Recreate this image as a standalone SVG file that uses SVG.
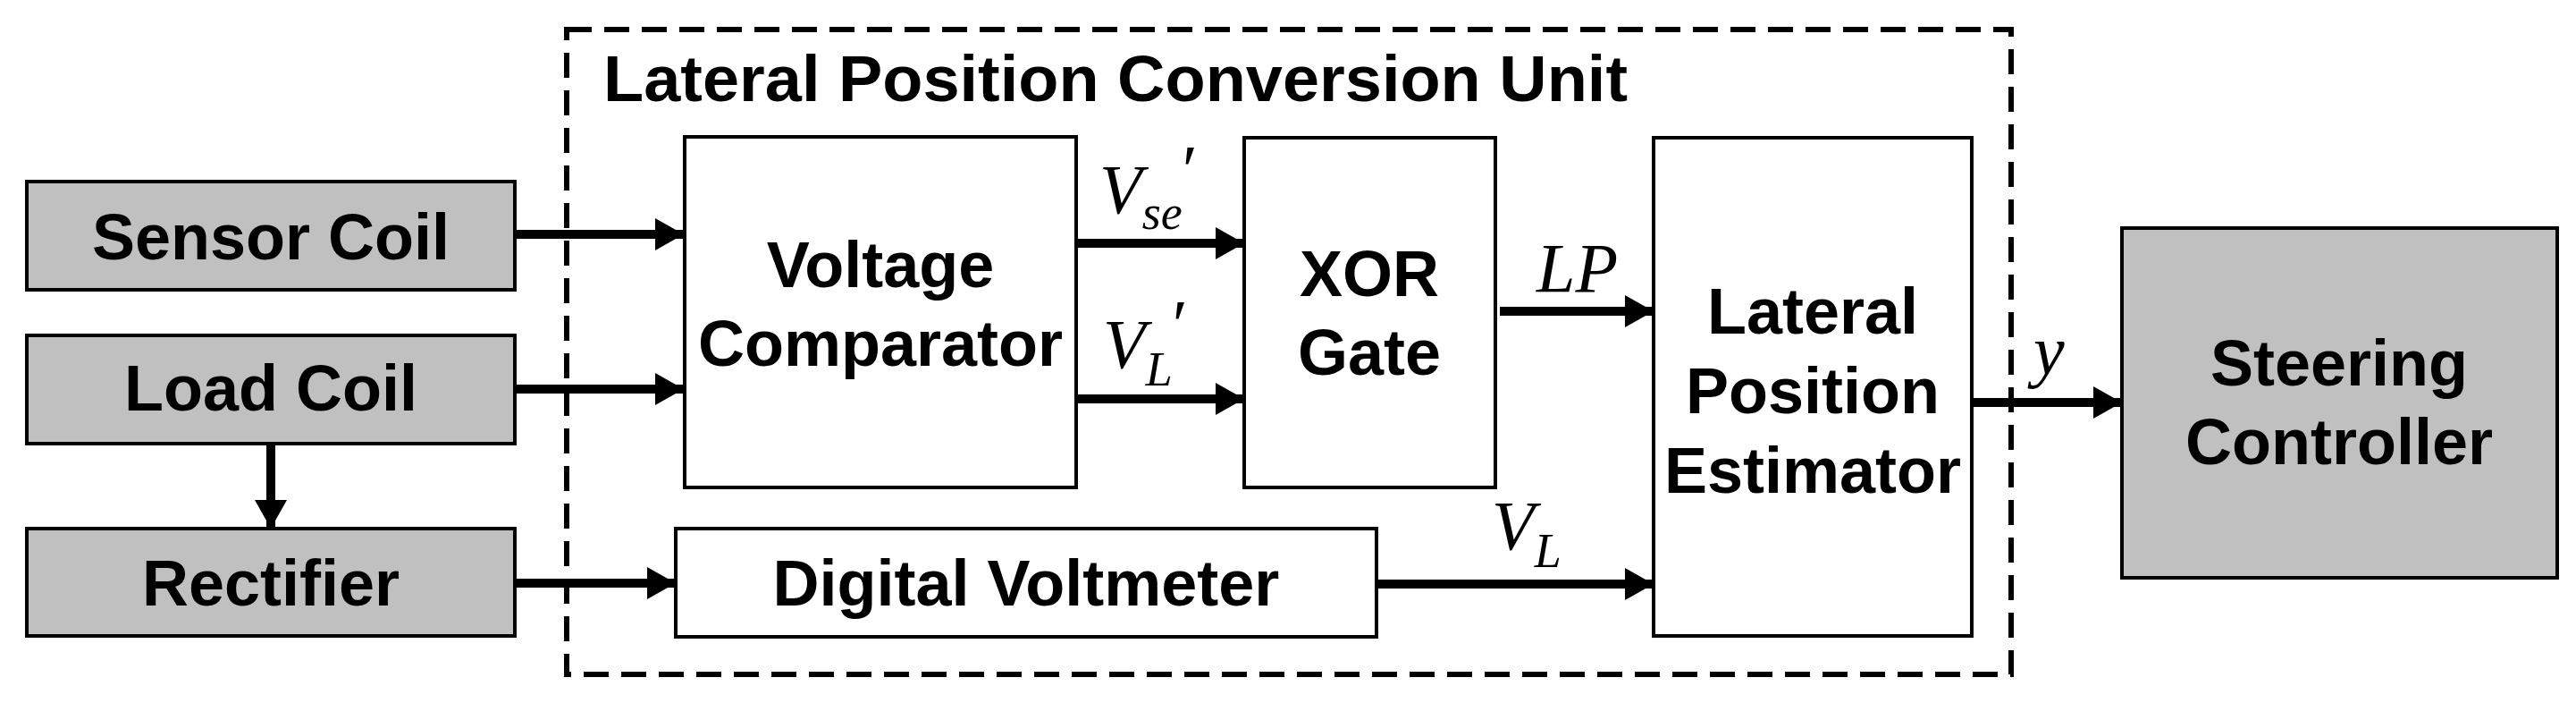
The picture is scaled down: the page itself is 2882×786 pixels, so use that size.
<svg xmlns="http://www.w3.org/2000/svg" width="2882" height="786" viewBox="0 0 2882 786">
<style>
.g{fill:#c0c0c0;stroke:#000;stroke-width:4}
.w{fill:#fff;stroke:#000;stroke-width:4}
.t{font-family:"Liberation Sans",Arial,sans-serif;font-weight:bold;font-size:72px;text-anchor:middle;fill:#000}
.m{font-family:"Liberation Serif","Times New Roman",serif;font-style:italic;font-size:78px;fill:#000}
.s{font-size:54px}
.c{stroke:#000;stroke-width:10;fill:none}
</style>
<defs>
<marker id="a" markerUnits="userSpaceOnUse" markerWidth="34" markerHeight="36" refX="32" refY="18" orient="auto">
<path d="M0,0L32,18L0,36Z" fill="#000"/>
</marker>
</defs>
<rect width="2882" height="786" fill="#fff"/>
<g id="unit">
<rect x="634" y="33" width="1616" height="721" fill="none" stroke="#000" stroke-width="6" stroke-dasharray="28,14"/>
<text class="t" x="675" y="113" text-anchor="start" style="text-anchor:start" font-size="68" textLength="1146" lengthAdjust="spacingAndGlyphs">Lateral Position Conversion Unit</text>
</g>
<g id="sensor"><rect class="g" x="30" y="203" width="546" height="121"/><text class="t" x="303" y="290">Sensor Coil</text></g>
<g id="load"><rect class="g" x="30" y="375" width="546" height="121"/><text class="t" x="303" y="459">Load Coil</text></g>
<g id="rect"><rect class="g" x="30" y="591" width="546" height="120"/><text class="t" x="303" y="677">Rectifier</text></g>
<g id="vc"><rect class="w" x="766" y="153" width="438" height="392"/><text class="t" x="985" y="321">Voltage</text><text class="t" x="985" y="409">Comparator</text></g>
<g id="xor"><rect class="w" x="1392" y="154" width="281" height="391"/><text class="t" x="1532" y="331">XOR</text><text class="t" x="1532" y="419">Gate</text></g>
<g id="lpe"><rect class="w" x="1850" y="154" width="356" height="557"/><text class="t" x="2028" y="373">Lateral</text><text class="t" x="2028" y="462">Position</text><text class="t" x="2028" y="551">Estimator</text></g>
<g id="dv"><rect class="w" x="756" y="591" width="784" height="121"/><text class="t" x="1148" y="677">Digital Voltmeter</text></g>
<g id="sc"><rect class="g" x="2374" y="255" width="487" height="391"/><text class="t" x="2617" y="431">Steering</text><text class="t" x="2617" y="519">Controller</text></g>
<g id="connectors">
<path class="c" d="M576,262H765" marker-end="url(#a)"/>
<path class="c" d="M576,435H765" marker-end="url(#a)"/>
<path class="c" d="M576,652H756" marker-end="url(#a)"/>
<path class="c" d="M303,496V591" marker-end="url(#a)"/>
<path class="c" d="M1204,272H1392" marker-end="url(#a)"/>
<path class="c" d="M1204,446H1392" marker-end="url(#a)"/>
<path class="c" d="M1678,348H1850" marker-end="url(#a)"/>
<path class="c" d="M1540,653H1850" marker-end="url(#a)"/>
<path class="c" d="M2206,450H2374" marker-end="url(#a)"/>
</g>
<g id="labels">
<text class="m" x="1230" y="238">V<tspan class="s" dy="18">se</tspan><tspan font-style="normal" dy="-40">′</tspan></text>
<text class="m" x="1234" y="411">V<tspan class="s" dy="20">L</tspan><tspan font-style="normal" dy="-42">′</tspan></text>
<text class="m" x="1719" y="326">LP</text>
<text class="m" x="1669" y="614">V<tspan class="s" dy="20">L</tspan></text>
<text class="m" x="2275" y="418">y</text>
</g>
</svg>
